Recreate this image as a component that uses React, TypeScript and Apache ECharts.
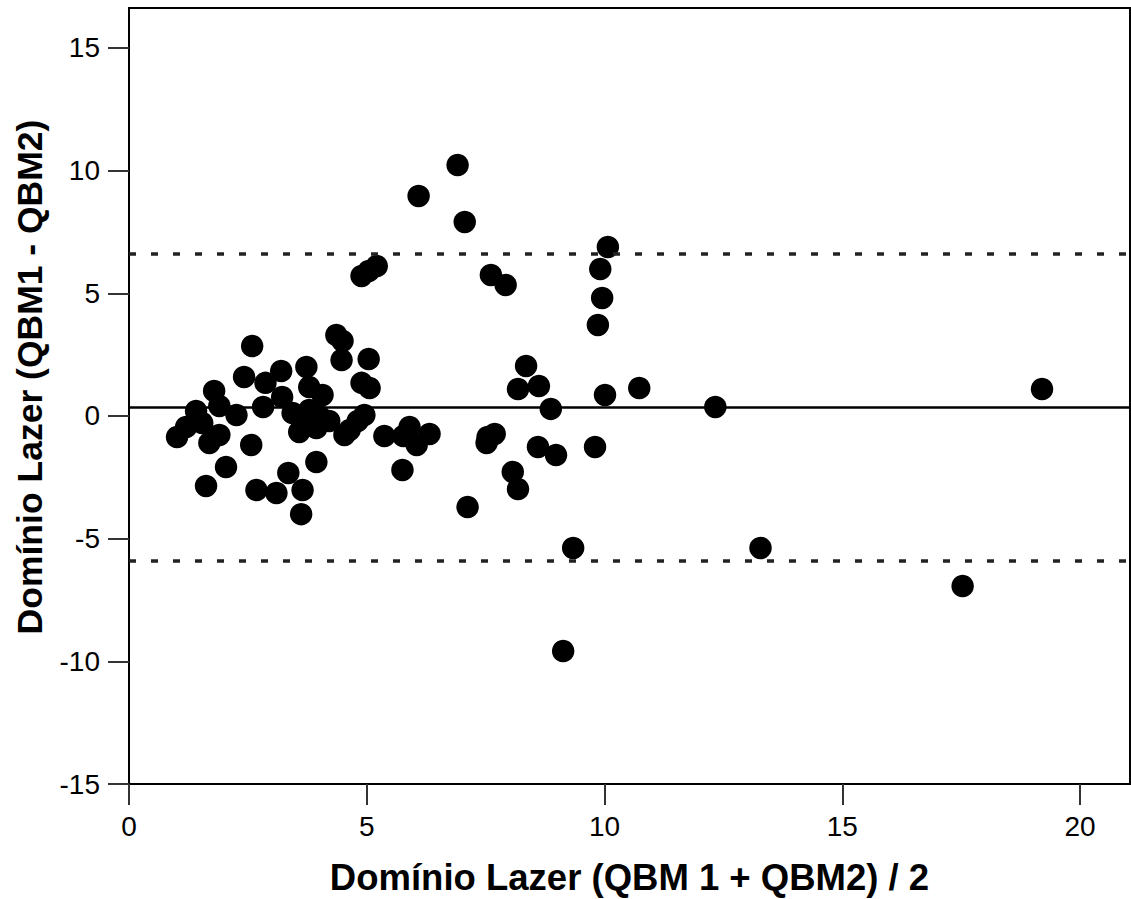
import React, { useEffect, useRef } from "react";
import * as echarts from "echarts";

// Bland-Altman: mean of the two measurements (x) and their difference (y)
const meanValues = [
  1.01, 1.2, 1.41, 1.54, 1.69, 1.79, 1.9, 1.9, 2.26, 2.04, 1.62, 2.42, 2.59, 2.57, 2.68,
  2.82, 2.87, 3.22, 3.2, 3.1, 3.35, 3.44, 3.65, 3.58, 3.65, 3.62, 3.73, 3.79, 3.79, 3.94,
  4.0, 4.07, 3.94, 4.21, 4.36, 4.49, 4.47, 5.04, 4.89, 5.06, 4.95, 4.81, 4.53, 4.64, 5.37,
  5.9, 5.77, 6.05, 6.32, 5.75, 4.89, 5.04, 5.21, 6.09, 6.91, 7.06, 7.12, 7.54, 7.69, 7.52,
  7.61, 7.92, 8.35, 8.18, 8.62, 8.87, 8.6, 8.98, 8.07, 8.18, 9.34, 9.13, 9.8, 10.01, 10.73,
  10.07, 9.91, 9.95, 9.86, 12.33, 13.28, 17.53, 19.2,
];
const diffValues = [
  -0.86, -0.45, 0.2, -0.29, -1.1, 1.02, 0.41, -0.77, 0.04, -2.08, -2.85, 1.59, 2.85, -1.18, -3.02,
  0.37, 1.35, 0.77, 1.83, -3.14, -2.32, 0.12, -0.16, -0.65, -3.02, -4.0, 2.0, 1.18, 0.24, -0.49,
  0.0, 0.86, -1.88, -0.2, 3.3, 3.06, 2.28, 2.32, 1.35, 1.14, 0.04, -0.2, -0.77, -0.57, -0.82,
  -0.45, -0.82, -1.18, -0.73, -2.2, 5.71, 5.91, 6.11, 8.97, 10.23, 7.91, -3.71, -0.86, -0.73, -1.1,
  5.75, 5.34, 2.04, 1.1, 1.22, 0.29, -1.26, -1.59, -2.28, -2.98, -5.38, -9.58, -1.26, 0.86, 1.14,
  6.89, 5.99, 4.81, 3.71, 0.37, -5.38, -6.93, 1.1,
];

const meanDiff = 0.37;
const upperLimit = 6.6;
const lowerLimit = -5.92;

const xTicks = [0, 5, 10, 15, 20];
const yTicks = [-15, -10, -5, 0, 5, 10, 15];

const xTitle = "Domínio Lazer (QBM 1 + QBM2) / 2";
const yTitle = "Domínio Lazer (QBM1 - QBM2)";

const FONT = '"Liberation Sans", Arial, Helvetica, sans-serif';

export default function App() {
  const ref = useRef<HTMLDivElement>(null);

  useEffect(() => {
    if (!ref.current) return;
    const chart = echarts.init(ref.current, undefined, { renderer: "svg" });
    const points = meanValues.map((x, i) => [x, diffValues[i]]);

    const axisCommon = {
      type: "value" as const,
      splitLine: { show: false },
      axisLine: { show: true, onZero: false, lineStyle: { color: "#000", width: 2 } },
      axisTick: { show: true, length: 21, lineStyle: { color: "#333", width: 2 } },
    };

    chart.setOption({
      animation: false,
      backgroundColor: "#fff",
      grid: {
        left: 129,
        right: 1,
        top: 8,
        bottom: 115,
        containLabel: false,
        outerBoundsMode: "none",
        show: true,
        borderColor: "#000",
        borderWidth: 2,
        backgroundColor: "transparent",
      },
      xAxis: {
        ...axisCommon,
        min: 0,
        max: 21.05,
        axisTick: { ...axisCommon.axisTick, customValues: xTicks },
        axisLabel: {
          customValues: xTicks,
          margin: 28,
          color: "#000",
          fontSize: 28,
          fontFamily: FONT,
        },
        name: xTitle,
        nameLocation: "middle",
        nameGap: 75,
        nameTextStyle: {
          color: "#000",
          fontSize: 36.5,
          fontWeight: "bold",
          fontFamily: FONT,
        },
      },
      yAxis: {
        ...axisCommon,
        min: -15,
        max: 16.63,
        axisTick: { ...axisCommon.axisTick, customValues: yTicks },
        axisLabel: {
          customValues: yTicks,
          margin: 29,
          color: "#000",
          fontSize: 28,
          fontFamily: FONT,
        },
      },
      graphic: [
        {
          type: "text",
          x: 30,
          y: 377,
          rotation: Math.PI / 2,
          style: {
            text: yTitle,
            fill: "#000",
            fontSize: 35.5,
            fontWeight: "bold",
            fontFamily: FONT,
            align: "center",
            verticalAlign: "middle",
          },
        },
      ],
      series: [
        {
          type: "scatter",
          data: points,
          symbol: "circle",
          symbolSize: 22.5,
          itemStyle: { color: "#000", opacity: 1 },
          silent: true,
          markLine: {
            silent: true,
            symbol: "none",
            label: { show: false },
            data: [
              { yAxis: meanDiff, lineStyle: { type: "solid", color: "#000", width: 2.5 } },
              { yAxis: upperLimit, lineStyle: { type: [7, 15], color: "#222", width: 3.5 } },
              { yAxis: lowerLimit, lineStyle: { type: [7, 15], color: "#222", width: 3.5 } },
            ],
          },
        },
      ],
    });

    return () => chart.dispose();
  }, []);

  return (
    <div
      ref={ref}
      style={{ position: "fixed", left: 0, top: 0, width: 1131, height: 899, background: "#fff" }}
    />
  );
}
